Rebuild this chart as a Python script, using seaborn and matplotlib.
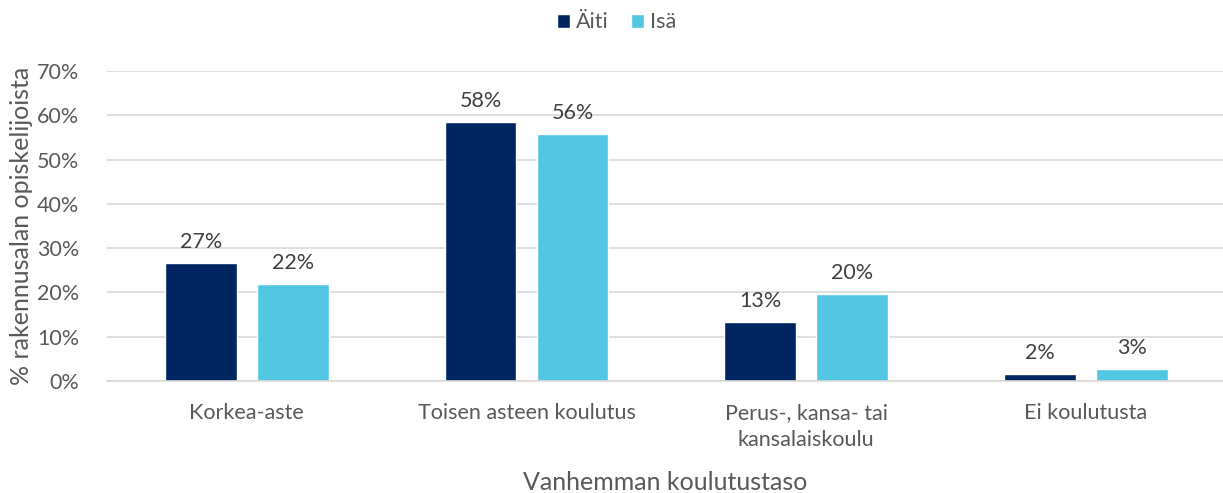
import matplotlib
matplotlib.use("Agg")
import matplotlib.pyplot as plt
import seaborn as sns
import pandas as pd
from matplotlib.ticker import PercentFormatter

categories = ["Korkea-aste", "Toisen asteen koulutus", "Perus-, kansa- tai\nkansalaiskoulu", "Ei koulutusta"]
aiti = [26.6, 58.4, 13.3, 1.6]
isa = [21.9, 55.7, 19.6, 2.7]
series = ["Äiti", "Isä"]
colors = ["#002560", "#53C6E3"]

df = pd.DataFrame({
    "cat": categories * 2,
    "val": aiti + isa,
    "who": [series[0]] * 4 + [series[1]] * 4,
})

sns.set_theme(style="white")
plt.rcParams["font.family"] = ["Lato", "DejaVu Sans"]

fig = plt.figure(figsize=(12.23, 4.93), dpi=100)
ax = fig.add_axes([107 / 1223, 1 - 381 / 493, 1 - 107 / 1223, (381 - 71) / 493])

sns.barplot(data=df, x="cat", y="val", hue="who", palette=colors, width=0.658, gap=0.219,
            saturation=1, ax=ax, legend=True)

ax.set_ylim(0, 70)
ax.set_xlim(-0.5, 3.49)
ax.set_yticks(range(0, 71, 10))
ax.yaxis.set_major_formatter(PercentFormatter(decimals=0))
ax.grid(axis="y", color="#d9d9d9", linewidth=1.2)
ax.set_axisbelow(True)
for s in ["top", "right", "left"]:
    ax.spines[s].set_visible(False)
ax.spines["bottom"].set_color("#d9d9d9")
ax.spines["bottom"].set_linewidth(1.2)
ax.tick_params(axis="both", length=0, labelsize=15.5, colors="#595959")
ax.tick_params(axis="x", pad=16)
ax.tick_params(axis="y", pad=20)
for lbl in ax.get_xticklabels():
    lbl.set_linespacing(1.45)

for cont in ax.containers:
    ax.bar_label(cont, labels=[f"{v:.0f}%" for v in cont.datavalues], padding=8,
                 fontsize=15.5, color="#404040")

ax.set_xlabel("Vanhemman koulutustaso", fontsize=18, color="#595959", labelpad=15)
ax.set_ylabel("% rakennusalan opiskelijoista", fontsize=18, color="#595959", labelpad=3)

ax.legend(loc="upper center", bbox_to_anchor=(0.5 - 53 / 1223, 1 + 78 / 310), ncol=2, frameon=False,
          fontsize=15.5, handlelength=0.6, handleheight=0.6, handletextpad=0.3, columnspacing=1.0,
          labelcolor="#595959")

fig.savefig("out.png", dpi=100)
